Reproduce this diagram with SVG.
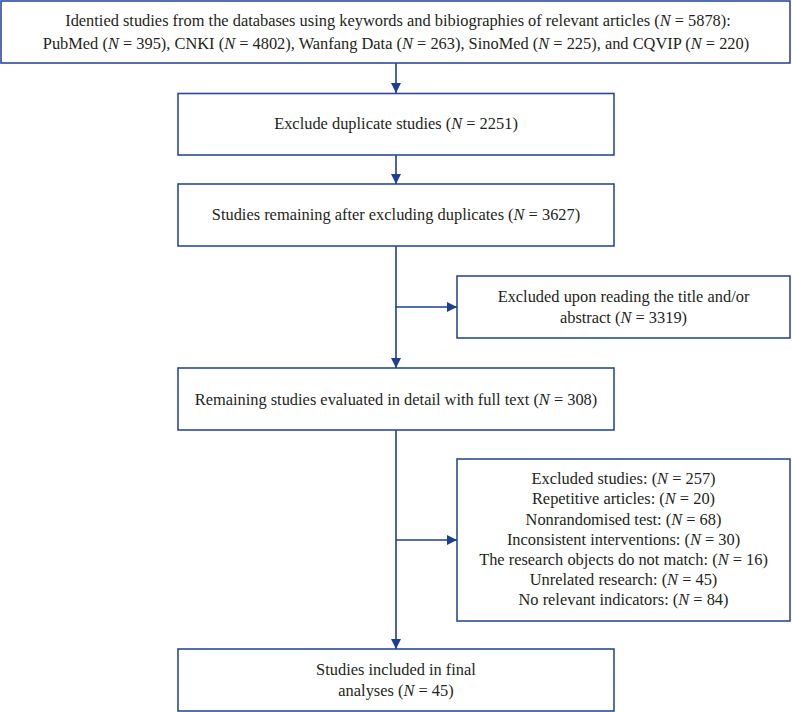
<svg xmlns="http://www.w3.org/2000/svg" width="792" height="712" viewBox="0 0 792 712">
<defs>
<style>
.box{fill:#fff;stroke:#2a4a9a;stroke-width:1.6}
.t{font-family:"Liberation Serif","Times New Roman",serif;font-size:16.4px;fill:#231f20;text-anchor:middle}
.i{font-style:italic}
.ln{fill:none;stroke:#1d3f91;stroke-width:1.6}
</style>
<marker id="ah" viewBox="0 0 10 10" refX="10" refY="5" markerWidth="10" markerHeight="10" markerUnits="userSpaceOnUse" orient="auto">
<path d="M0,0 L10,5 L0,10 Z" fill="#1d3f91"/>
</marker>
</defs>
<rect width="792" height="712" fill="#fff"/>
<g id="connectors">
<line class="ln" x1="396" y1="63" x2="396" y2="93" marker-end="url(#ah)"/>
<line class="ln" x1="396" y1="155" x2="396" y2="184" marker-end="url(#ah)"/>
<line class="ln" x1="396" y1="246" x2="396" y2="368" marker-end="url(#ah)"/>
<line class="ln" x1="396" y1="307" x2="457" y2="307" marker-end="url(#ah)"/>
<line class="ln" x1="396" y1="430" x2="396" y2="649" marker-end="url(#ah)"/>
<line class="ln" x1="396" y1="540" x2="457" y2="540" marker-end="url(#ah)"/>
</g>
<g id="n1">
<rect class="box" x="1" y="1" width="789" height="62"/>
<text class="t" x="398" y="26">Identied studies from the databases using keywords and bibiographies of relevant articles (<tspan class="i">N</tspan> = 5878):</text>
<text class="t" x="396" y="49">PubMed (<tspan class="i">N</tspan> = 395), CNKI (<tspan class="i">N</tspan> = 4802), Wanfang Data (<tspan class="i">N</tspan> = 263), SinoMed (<tspan class="i">N</tspan> = 225), and CQVIP (<tspan class="i">N</tspan> = 220)</text>
</g>
<g id="n2">
<rect class="box" x="178" y="93.5" width="436" height="61.5"/>
<text class="t" x="396" y="129">Exclude duplicate studies (<tspan class="i">N</tspan> = 2251)</text>
</g>
<g id="n3">
<rect class="box" x="178" y="184" width="436" height="62"/>
<text class="t" x="396" y="220">Studies remaining after excluding duplicates (<tspan class="i">N</tspan> = 3627)</text>
</g>
<g id="n4">
<rect class="box" x="457" y="276" width="333" height="62"/>
<text class="t" x="623.5" y="302">Excluded upon reading the title and/or</text>
<text class="t" x="623.5" y="323">abstract (<tspan class="i">N</tspan> = 3319)</text>
</g>
<g id="n5">
<rect class="box" x="178" y="368" width="436" height="62"/>
<text class="t" x="396" y="405">Remaining studies evaluated in detail with full text (<tspan class="i">N</tspan> = 308)</text>
</g>
<g id="n6">
<rect class="box" x="457" y="459" width="333" height="162"/>
<text class="t" x="623.5" y="484">Excluded studies: (<tspan class="i">N</tspan> = 257)</text>
<text class="t" x="623.5" y="504">Repetitive articles: (<tspan class="i">N</tspan> = 20)</text>
<text class="t" x="623.5" y="525">Nonrandomised test: (<tspan class="i">N</tspan> = 68)</text>
<text class="t" x="623.5" y="545">Inconsistent interventions: (<tspan class="i">N</tspan> = 30)</text>
<text class="t" x="623.5" y="565">The research objects do not match: (<tspan class="i">N</tspan> = 16)</text>
<text class="t" x="623.5" y="585">Unrelated research: (<tspan class="i">N</tspan> = 45)</text>
<text class="t" x="623.5" y="605">No relevant indicators: (<tspan class="i">N</tspan> = 84)</text>
</g>
<g id="n7">
<rect class="box" x="178" y="649" width="436" height="62"/>
<text class="t" x="396" y="675">Studies included in final</text>
<text class="t" x="396" y="696">analyses (<tspan class="i">N</tspan> = 45)</text>
</g>
</svg>
